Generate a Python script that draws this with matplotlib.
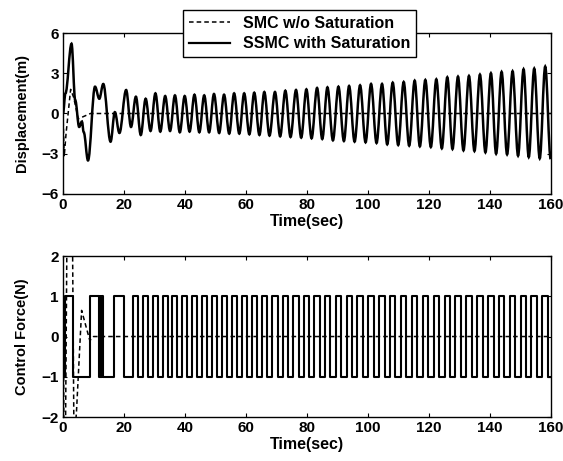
import numpy as np
import matplotlib.pyplot as plt
from matplotlib.path import Path
from matplotlib.patches import PathPatch

plt.rcParams['font.family'] = ['Liberation Sans', 'DejaVu Sans']
plt.rcParams['font.weight'] = 'bold'

# displacement, SSMC with saturation: extrema (time s, value m)
disp_t = [0.0, 0.8, 2.8, 4.0, 5.3, 6.2, 6.8, 8.2, 10.5, 11.9, 13.2, 15.6, 17.0, 18.5,
          20.7, 22.3, 23.9, 25.5, 27.1, 28.7, 30.3, 31.9, 33.5, 35.1, 36.7, 38.3,
          39.9, 41.5, 43.1, 44.7, 46.3, 47.9, 49.5, 51.2, 52.8, 54.5, 56.1, 57.8,
          59.4, 61.1, 62.7, 64.4, 66.0, 67.7, 69.5, 71.2, 72.9, 74.6, 76.4, 78.1,
          79.8, 81.5, 83.3, 85.0, 86.7, 88.5, 90.3, 92.1, 93.8, 95.6, 97.4, 99.2,
          101.0, 102.8, 104.6, 106.3, 108.1, 109.9, 111.7, 113.5, 115.3, 117.0,
          118.8, 120.6, 122.4, 124.2, 126.0, 127.7, 129.5, 131.3, 133.1, 134.9,
          136.7, 138.5, 140.3, 142.0, 143.8, 145.6, 147.4, 149.2, 151.0, 152.7,
          154.5, 156.3, 158.1, 159.9]
disp_v = [0.0, 1.5, 5.2, 1.0, -1.0, -0.6, -1.4, -3.5, 2.0, 1.1, 2.2, -2.1, 0.1, -1.45,
          1.75, -1.0, 1.25, -1.6, 1.1, -1.3, 1.5, -1.35, 1.3, -1.3, 1.35, -1.4,
          1.3, -1.35, 1.4, -1.4, 1.35, -1.4, 1.45, -1.45, 1.4, -1.5, 1.5, -1.5,
          1.5, -1.55, 1.55, -1.6, 1.6, -1.65, 1.6, -1.7, 1.7, -1.75, 1.75, -1.8,
          1.8, -1.85, 1.9, -1.9, 1.95, -2.0, 2.0, -2.05, 2.05, -2.1, 2.1, -2.15,
          2.2, -2.2, 2.2, -2.3, 2.3, -2.35, 2.35, -2.4, 2.45, -2.45,
          2.5, -2.5, 2.55, -2.6, 2.7, -2.65, 2.75, -2.75, 2.8, -2.8,
          2.9, -2.9, 3.0, -3.0, 3.1, -3.05, 3.15, -3.15, 3.3, -3.25,
          3.35, -3.35, 3.5, -3.4]

# displacement, SMC without saturation
smc_t = [0.0, 0.4, 1.0, 2.5, 3.5, 5.0, 7.0, 9.0, 160.0]
smc_v = [0.0, -3.2, -1.5, 1.8, 1.2, -0.4, -0.2, 0.0, 0.0]

# control force, SSMC: switching times during the transient and the level after each
sw_t = [0.0, 0.5, 3.4, 8.9, 11.9, 12.05, 12.2, 12.35, 12.5, 12.65, 12.8, 12.95,
        13.2, 16.8, 19.9]
sw_v = [-1, 1, -1, 1, -1, 1, -1, 1, -1, 1, -1, 1, -1, 1, -1]

# control force, SMC without saturation
smcu_t = [0.0, 0.3, 0.8, 1.3, 3.1, 3.6, 4.4, 6.1, 8.8, 10.0, 160.0]
smcu_v = [2.6, -2.6, -2.6, 2.6, 2.6, -2.6, -1.9, 0.65, -0.1, 0.0, 0.0]

# after the transient the force switches where the displacement crosses zero
dt = np.array(disp_t)
dv = np.array(disp_v)
k0 = 15
edges = []
for i in range(k0, len(dt) - 1):
    edges.append(((dt[i] + dt[i + 1]) / 2, 1 if dv[i + 1] > 0 else -1))
ctrl_t = list(sw_t) + [e[0] for e in edges] + [160.0]
ctrl_v = list(sw_v) + [e[1] for e in edges] + [edges[-1][1]]


def smooth_path(t, v):
    # cubic segments with flat tangents at each extremum
    verts = [(t[0], v[0])]
    codes = [Path.MOVETO]
    for i in range(len(t) - 1):
        h = (t[i + 1] - t[i]) * 0.36
        verts += [(t[i] + h, v[i]), (t[i + 1] - h, v[i + 1]), (t[i + 1], v[i + 1])]
        codes += [Path.CURVE4] * 3
    return Path(verts, codes)


fig = plt.figure(figsize=(5.63, 4.61), dpi=100)
ax1 = fig.add_axes([0.1119, 0.5792, 0.8668, 0.3492])
ax2 = fig.add_axes([0.1119, 0.0954, 0.8668, 0.3492])

l1, = ax1.plot(smc_t, smc_v, 'k--', lw=1.1, dashes=(3, 2))
ax1.add_patch(PathPatch(smooth_path(disp_t, disp_v), fill=False, lw=1.8,
                        edgecolor='black'))
l2, = ax1.plot([], [], 'k-', lw=1.6)
ax1.set_ylim(-6, 6)
ax1.set_yticks([-6, -3, 0, 3, 6])
ax1.set_ylabel('Displacement(m)', fontsize=10.5, fontweight='bold', labelpad=9)

ax2.plot(smcu_t, smcu_v, 'k--', lw=1.1, dashes=(3, 2))
ax2.step(ctrl_t, ctrl_v, 'k-', where='post', lw=1.5)
ax2.set_ylim(-2, 2)
ax2.set_yticks([-2, -1, 0, 1, 2])
ax2.set_ylabel('Control Force(N)', fontsize=10.5, fontweight='bold', labelpad=9)

for ax in (ax1, ax2):
    ax.set_xlim(0, 160)
    ax.set_xticks(range(0, 161, 20))
    ax.set_xlabel('Time(sec)', fontsize=11.5, fontweight='bold', labelpad=1)
    ax.tick_params(direction='in', length=3, top=True, right=True,
                   labelsize=11, pad=3)
    for lab in ax.get_xticklabels() + ax.get_yticklabels():
        lab.set_fontweight('bold')
    for s in ax.spines.values():
        s.set_linewidth(1.0)

fig.legend([l1, l2], ['SMC w/o Saturation', 'SSMC with Saturation'],
           loc='upper left', bbox_to_anchor=(183 / 563, 1 - 10 / 461),
           borderaxespad=0, frameon=True, fancybox=False, edgecolor='black',
           framealpha=1, handlelength=2.6, borderpad=0.35, labelspacing=0.35,
           prop={'weight': 'bold', 'size': 11.5})

fig.savefig('out.png', dpi=100)
